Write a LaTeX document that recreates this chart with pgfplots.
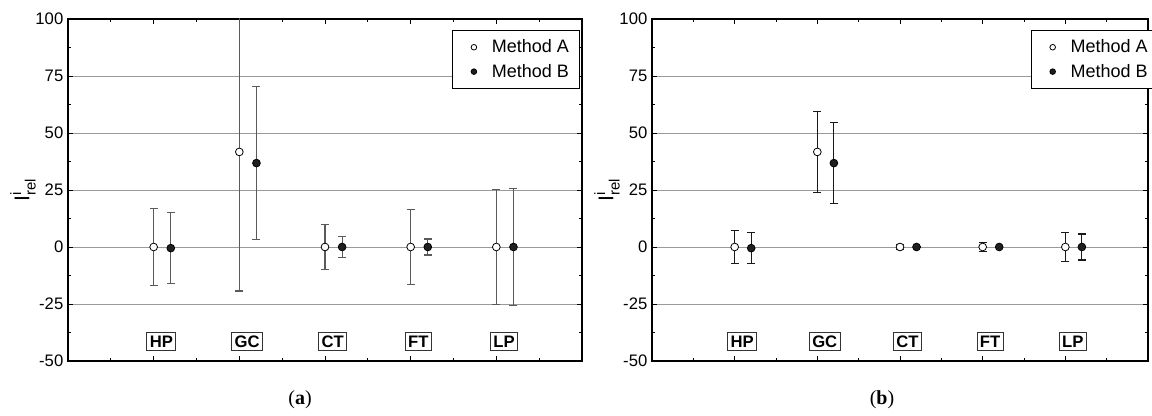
\documentclass[border=0pt]{standalone}
\usepackage{pgfplots}
\pgfplotsset{compat=1.18}
\usepackage{pgfplotstable}
\usepackage{amsmath}
\usepackage{fontspec}
\setmainfont{Liberation Sans}
\newfontfamily\capfont{Liberation Serif}

% panel (a)
\pgfplotstableread{
x y ey
1 0 16.7
2 41.7 61.0
3 0 9.7
4 0 16.5
5 0 25.3
}\aA
\pgfplotstableread{
x y ey
1.2 -0.5 15.7
2.2 36.8 33.4
3.2 0 4.5
4.2 0 3.5
5.2 0 25.5
}\aB
% panel (b)
\pgfplotstableread{
x y ey
1 0 7.2
2 41.7 17.8
3 0 1.0
4 0 2.0
5 0 6.2
}\bA
\pgfplotstableread{
x y ey
1.2 -0.5 6.8
2.2 36.8 17.9
3.2 0 0
4.2 0 0
5.2 0 5.7
}\bB

\definecolor{errgray}{HTML}{5A5A5A}
\definecolor{gridgray}{HTML}{9A9A9A}

\tikzset{
  catbox/.style={draw=black!80, line width=0.7pt, inner xsep=2.2pt, inner ysep=2.6pt,
      font=\fontsize{12.5}{14}\selectfont\bfseries, fill=white},
}

\pgfplotsset{
  panel/.style={
    scale only axis,
    height=256.5pt,
    xmin=0, xmax=6, ymin=-50, ymax=100,
    xtick={0,...,6}, minor xtick={0.5,1.5,...,5.5},
    xticklabels={},
    ytick={-50,-25,...,100}, minor ytick={-37.5,-12.5,...,87.5},
    tick align=inside,
    major tick length=4pt, minor tick length=2.5pt,
    every tick/.style={black, line width=0.7pt},
    axis line style={line width=0.9pt},
    ymajorgrids,
    grid style={gridgray, line width=0.7pt},
    tick label style={font=\fontsize{12.5}{14}\selectfont},
    /pgf/number format/assume math mode=true,
    ylabel={I$^{\text{i}}_{\text{rel}}$},
    ylabel style={font=\fontsize{16}{18}\selectfont, yshift=-7pt},
    legend style={draw=black, line width=0.7pt,
      font=\fontsize{13.5}{15}\selectfont, inner xsep=6pt, inner ysep=5pt,
      row sep=3pt},
    legend cell align=left,
    legend image code/.code={%
      \path[draw=none, fill=none] (0cm,-2pt) rectangle (0.75cm,2pt);
      \draw[mark size=2.1pt,#1] plot coordinates {(0.35cm,0cm)};},
    clip=true,
  },
  mA/.style={only marks, mark=*, mark size=2.9pt,
    mark options={fill=white, draw=black, line width=0.6pt}},
  mB/.style={only marks, mark=*, mark size=2.9pt,
    mark options={fill=black!88, draw=black, line width=0.6pt}},
}

\newcommand{\catlabels}{%
  \node[catbox] at (axis cs:1.09,-41.4) {HP};
  \node[catbox] at (axis cs:2.09,-41.4) {GC};
  \node[catbox] at (axis cs:3.09,-41.4) {CT};
  \node[catbox] at (axis cs:4.09,-41.4) {FT};
  \node[catbox] at (axis cs:5.09,-41.4) {LP};
}

\begin{document}
\begin{tikzpicture}
\useasboundingbox (0,0) rectangle (864pt,312pt);

\begin{axis}[panel, width=385.5pt, at={(51pt,41.25pt)}, anchor=south west,
  legend style={at={(rel axis cs:0.996,0.968)}, anchor=north east}]
\addplot[mA, error bars/.cd, y dir=both, y explicit,
  error bar style={errgray, line width=0.8pt},
  error mark options={rotate=90, errgray, mark size=3pt, line width=0.8pt}]
  table[x=x, y=y, y error=ey]{\aA};
\addlegendentry{Method A}
\addplot[mB, error bars/.cd, y dir=both, y explicit,
  error bar style={errgray, line width=0.8pt},
  error mark options={rotate=90, errgray, mark size=3pt, line width=0.8pt}]
  table[x=x, y=y, y error=ey]{\aB};
\addlegendentry{Method B}
\catlabels
\end{axis}

\begin{axis}[panel, width=372pt, at={(489pt,41.25pt)}, anchor=south west,
  legend style={at={(rel axis cs:0.764,0.968)}, anchor=north west}]
\addplot[mA, error bars/.cd, y dir=both, y explicit,
  error bar style={black!90, line width=0.8pt},
  error mark options={rotate=90, black!90, mark size=3pt, line width=0.8pt}]
  table[x=x, y=y, y error=ey]{\bA};
\addlegendentry{Method A}
\addplot[mB, error bars/.cd, y dir=both, y explicit,
  error bar style={black!90, line width=0.8pt},
  error mark options={rotate=90, black!90, mark size=3pt, line width=0.8pt}]
  table[x=x, y=y, y error=ey]{\bB};
\addlegendentry{Method B}
\catlabels
\end{axis}

\node[font=\capfont\fontsize{15}{17}\selectfont] at (225pt,12pt) {(\textbf{a})};
\node[font=\capfont\fontsize{15}{17}\selectfont] at (661.5pt,12pt) {(\textbf{b})};
\end{tikzpicture}
\end{document}
